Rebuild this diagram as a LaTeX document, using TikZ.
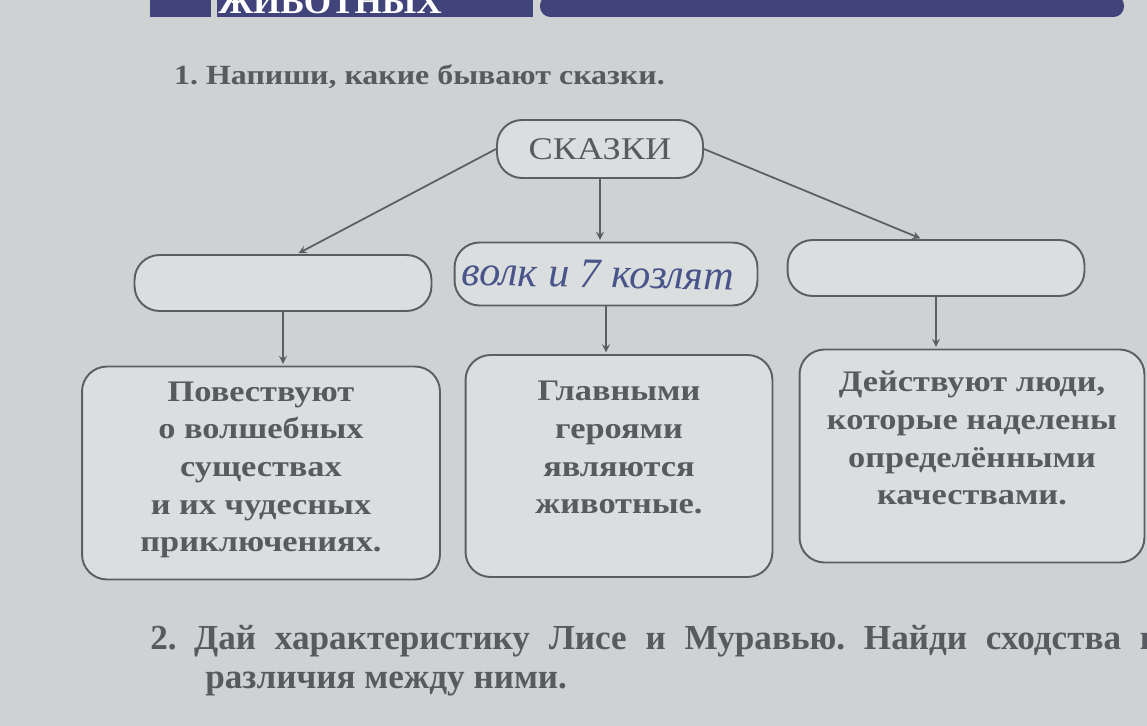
\documentclass[tikz,border=0pt]{standalone}
\usepackage{fontspec}
\setmainfont{Liberation Serif}
\newfontfamily\bookfont[FakeStretch=1.15]{Liberation Serif}
\usetikzlibrary{positioning}
\definecolor{paper}{RGB}{207,210,210}
\definecolor{boxfill}{RGB}{219,222,222}
\definecolor{inkgray}{RGB}{92,94,98}
\definecolor{textgray}{RGB}{88,90,95}
\definecolor{band}{RGB}{64,68,122}
\definecolor{pen}{RGB}{72,84,138}
\frenchspacing
\begin{document}
\begin{tikzpicture}[
			x=0.02cm, y=-0.02cm,
			>=stealth,
			box line/.style={draw=inkgray, line width=1.1pt, fill=boxfill},
			pill node/.style={box line, rounded corners=0.5cm, minimum height=1.12cm},
			card node/.style={box line, rounded corners=0.5cm},
			card text/.style={font=\bookfont\bfseries\fontsize{17}{21.4}\selectfont, text=textgray, align=center},
			task text/.style={anchor=west, font=\bfseries\fontsize{20}{24}\selectfont, text=textgray, inner sep=0pt},
			arrow line/.style={->, draw=inkgray, line width=1pt, shorten >=1pt}
			]
			\useasboundingbox (0,0) rectangle (1147,726);
			\fill[paper] (0,0) rectangle (1147,726);
			\clip (0,0) rectangle (1147,726);
			% band at the top of the page
			\fill[band] (150,-5) rectangle (211,17);
			\fill[band] (217,-5) rectangle (533,17);
			\fill[band, rounded corners=6pt] (540,-5) rectangle (1124,17);
			\node[font=\bfseries\fontsize{20}{24}\selectfont, text=white] (bandtitle) at (330,2) {ЖИВОТНЫХ};
			\node[anchor=west, font=\bookfont\bfseries\fontsize{15.8}{20}\selectfont, text=textgray] (task1) at (168,77) {1. Напиши, какие бывают сказки.};
			% scheme
			\node[pill node, minimum width=4.12cm, minimum height=1.16cm, font=\bookfont\fontsize{18}{21}\selectfont, text=textgray] (skazki) at (600,149) {СКАЗКИ};
			\node[pill node, minimum width=5.94cm] (midL) at (283,283) {};
			\node[pill node, minimum width=6.06cm, minimum height=1.26cm] (midC) at (606,274) {};
			\node[pill node, minimum width=5.94cm] (midR) at (936,268) {};
			\node[font=\itshape\fontsize{24}{26}\selectfont, text=pen, rotate=-1] (hand) at (598,274) {волк и 7 козлят};
			\node[card node, minimum width=7.16cm, minimum height=4.26cm] (botL) at (261,473) {};
			\node[card node, minimum width=6.14cm, minimum height=4.44cm] (botC) at (619,466) {};
			\node[card node, minimum width=6.9cm, minimum height=4.26cm] (botR) at (972,456) {};
			\node[card text, below=0.2cm of botL.north] (txtL) {Повествуют\\о волшебных\\существах\\и их чудесных\\приключениях.};
			\node[card text, below=0.42cm of botC.north] (txtC) {Главными\\героями\\являются\\животные.};
			\node[card text, below=0.33cm of botR.north] (txtR) {Действуют люди,\\которые наделены\\определёнными\\качествами.};
			\draw[arrow line] (skazki.west) -- ([xshift=0.28cm]midL.north);
			\draw[arrow line] (skazki.south) -- (skazki.south |- midC.north);
			\draw[arrow line] (skazki.east) -- ([xshift=-0.28cm]midR.north);
			\draw[arrow line] (midL.south) -- (midL.south |- botL.north);
			\draw[arrow line] (midC.south) -- (midC.south |- botC.north);
			\draw[arrow line] (midR.south) -- (midR.south |- botR.north);
			% task 2
			\node[task text] (task2a) at (150,641) {\makebox[20.2cm][s]{2.\hspace{0.35cm}Дай характеристику Лисе и Муравью. Найди сходства и}};
			\node[task text] (task2b) at (205,684) {различия между ними.};
		\end{tikzpicture}
\end{document}
